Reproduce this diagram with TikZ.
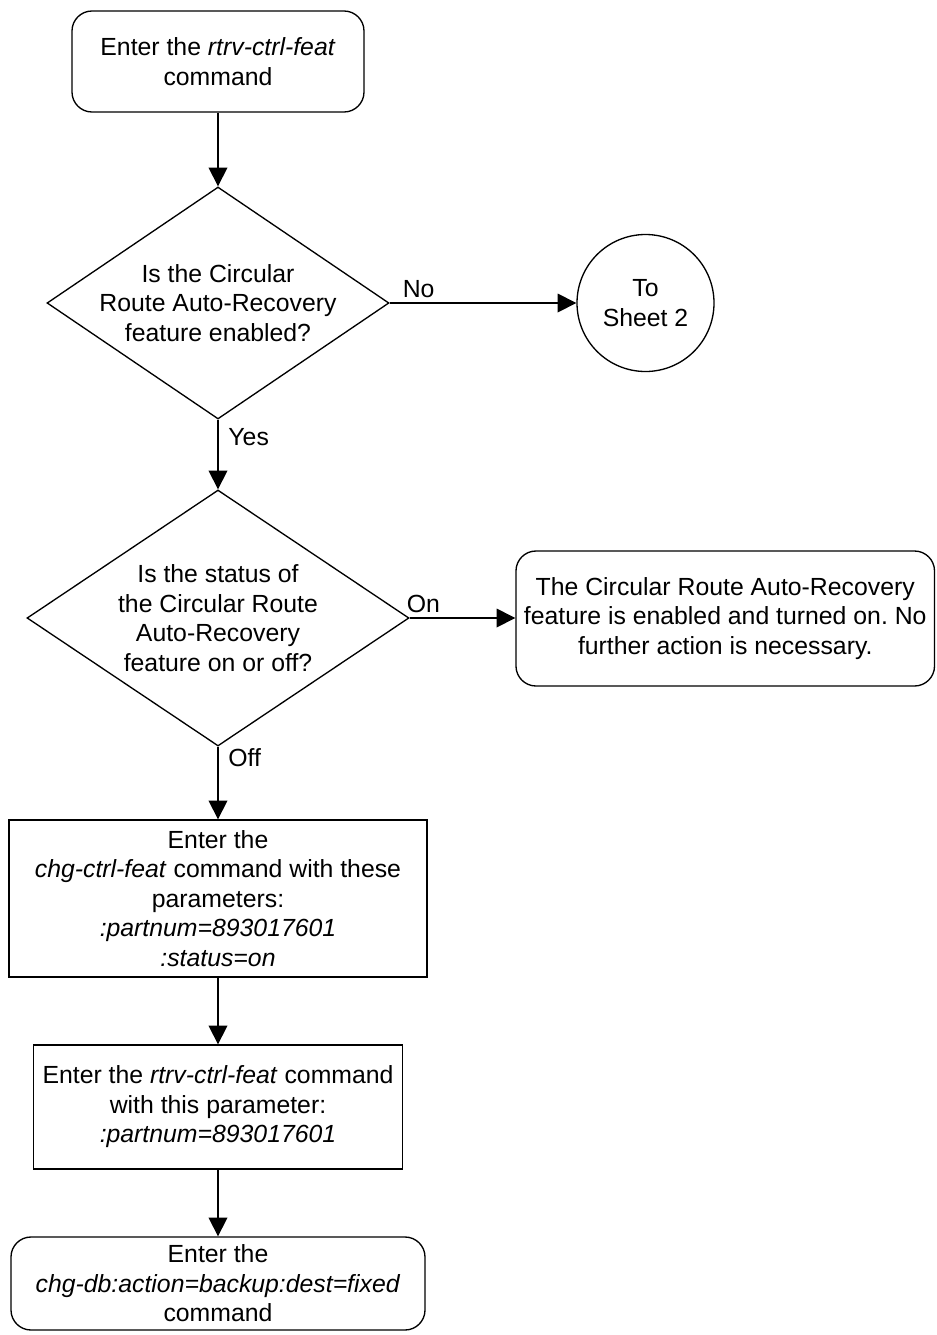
\documentclass[tikz,border=0pt]{standalone}
\usepackage{fontspec}
\setmainfont{Liberation Sans}
\usetikzlibrary{arrows.meta,shapes.geometric}
\tikzset{pb/.style={draw,line width=1pt,align=center,inner sep=2pt},
 rt/.style={pb,rounded corners=15pt},
 dm/.style={pb,diamond,inner sep=-6pt},
 cn/.style={pb,circle,inner sep=0pt},
 arr/.style={-{Triangle[length=14pt,width=14pt]},line width=1pt},
 every node/.style={font=\fontsize{18.6pt}{22.1pt}\selectfont\frenchspacing}}
\begin{document}
\begin{tikzpicture}[x=.75pt,y=-.75pt]
\useasboundingbox (0,0) rectangle (936,1335);
\node[rt,minimum width=219pt,minimum height=75.75pt] (t) at (218,61.5) {Enter the \textit{rtrv-ctrl-feat}\\command};
\node[dm,aspect=1.474,minimum width=256.5pt,minimum height=174pt] (d1) at (218,303) {Is the Circular\\Route Auto-Recovery\\feature enabled?};
\node[cn,minimum size=102.75pt] (s2) at (645.5,303) {To\\Sheet 2};
\node[dm,aspect=1.492,minimum width=286.5pt,minimum height=192pt] (d2) at (218,618) {Is the status of\\the Circular Route\\Auto-Recovery\\feature on or off?};
\node[rt,minimum width=313.9pt,minimum height=101.25pt] (ok) at (725.25,618.5) {The Circular Route Auto-Recovery\\feature is enabled and turned on. No\\further action is necessary.};
\node[pb,minimum width=313.5pt,minimum height=117.75pt] (c1) at (218,898.5) {Enter the\\\textit{chg-ctrl-feat} command with these\\parameters:\\\textit{:partnum=893017601}\\\textit{:status=on}};
\node[pb,minimum width=276.75pt,minimum height=93pt] (c2) at (218,1107) {Enter the \textit{rtrv-ctrl-feat} command\\with this parameter:\\\textit{:partnum=893017601}};
\node[rt,minimum width=310.5pt,minimum height=69.75pt] (db) at (218,1283.5) {Enter the\\\textit{chg-db:action=backup:dest=fixed}\\command};
\draw[arr] (t) -- (d1);
\draw[arr] (d1.east) -- node[pos=.155,above]{No} (s2.west);
\draw[arr] (d1.south) -- node[pos=.25,right=4pt]{Yes} (d2.north);
\draw[arr] (d2.east) -- node[pos=.13,above]{On} (d2.east -| ok.west);
\draw[arr] (d2.south) -- node[pos=.15,right=4pt]{Off} (c1.north);
\draw[arr] (c1) -- (c2);\draw[arr] (c2) -- (db);
\end{tikzpicture}
\end{document}
